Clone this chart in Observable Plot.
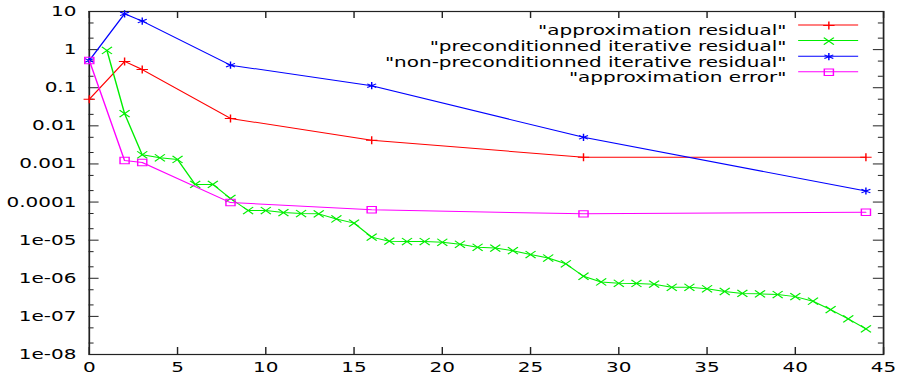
<!DOCTYPE html>
<html>
<head>
<meta charset="utf-8">
<script src="https://cdn.jsdelivr.net/npm/d3@7"></script>
<script src="https://cdn.jsdelivr.net/npm/@observablehq/plot@0.6"></script>
<style>
html, body { margin: 0; padding: 0; background: #fff; overflow: hidden; }
</style>
</head>
<body>
<div id="chart"></div>
<script>
// ---- data ----
const sharedIterations = [0, 2, 3, 8, 16, 28, 44];
const approximationResidual = [0.05, 0.49, 0.30, 0.0156, 0.0042, 0.0015, 0.0015];
const nonPreconditionedResidual = [0.52, 8.7, 5.6, 0.39, 0.113, 0.0050, 0.000195];
const approximationError = [0.52, 0.00123, 0.00109, 0.000097, 0.000063, 0.000049, 0.000054];

const preconditionedIterations = [1, 2, 3, 4, 5, 6, 7, 8, 9, 10, 11, 12, 13, 14, 15, 16, 17, 18, 19, 20, 21, 22,
  23, 24, 25, 26, 27, 28, 29, 30, 31, 32, 33, 34, 35, 36, 37, 38, 39, 40, 41, 42, 43, 44];
const preconditionedResidual = [0.95, 0.021, 0.00174, 0.00145, 0.00131, 0.00029, 0.00029, 0.000124,
  6.0e-5, 6.0e-5, 5.3e-5, 5.0e-5, 4.9e-5, 3.6e-5, 2.8e-5, 1.2e-5, 9.4e-6, 9.2e-6, 9.2e-6, 8.8e-6,
  7.8e-6, 6.5e-6, 6.2e-6, 5.3e-6, 4.2e-6, 3.4e-6, 2.4e-6, 1.13e-6, 8.0e-7, 7.4e-7, 7.3e-7, 7.0e-7,
  5.8e-7, 5.8e-7, 5.3e-7, 4.5e-7, 4.0e-7, 3.9e-7, 3.75e-7, 3.3e-7, 2.5e-7, 1.5e-7, 8.6e-8, 4.7e-8];

const xTicks = [0, 5, 10, 15, 20, 25, 30, 35, 40, 45];
const yTicks = [10, 1, 0.1, 0.01, 0.001, 0.0001, 1e-5, 1e-6, 1e-7, 1e-8];
const yTickLabels = ["10", "1", "0.1", "0.01", "0.001", "0.0001", "1e-05", "1e-06", "1e-07", "1e-08"];
const yMinorTicks = [5, 2, 0.5, 0.2, 0.05, 0.02, 0.005, 0.002, 0.0005, 0.0002, 5e-5, 2e-5,
  5e-6, 2e-6, 5e-7, 2e-7, 5e-8, 2e-8];

const seriesNames = ['"approximation residual"', '"preconditionned iterative residual"',
  '"non-preconditionned iterative residual"', '"approximation error"'];
const seriesColors = ["#ff0000", "#00ee00", "#0000ff", "#ff00ff"];
const seriesSymbols = ["plus", "times", "asterisk", "square"];

// ---- layout (drawn narrow, then stretched horizontally like the reference) ----
const OUT_W = 900, H = 376;
const W = 630;
const ML = 62, MR = 12, MT = 11, MB = 22;
const PW = W - ML - MR, PH = H - MT - MB;
const symbolR = {plus: 2.7, times: 3.3, asterisk: 3.4, square: 3.6};

const rows = (xs, ys) => xs.map((x, i) => ({x, y: ys[i]}));
const seriesData = [
  rows(sharedIterations, approximationResidual),
  rows(preconditionedIterations, preconditionedResidual),
  rows(sharedIterations, nonPreconditionedResidual),
  rows(sharedIterations, approximationError)
];

const legendDy = i => 14 + i * 15.6;

const marks = [
  Plot.tickX(xTicks, {x: d => d, insetTop: PH - 7, stroke: "#222"}),
  Plot.tickX(xTicks, {x: d => d, insetBottom: PH - 7, stroke: "#222"}),
  Plot.tickY(yTicks, {y: d => d, insetRight: PW - 7, stroke: "#222"}),
  Plot.tickY(yTicks, {y: d => d, insetLeft: PW - 7, stroke: "#222"}),
  Plot.tickY(yMinorTicks, {y: d => d, insetRight: PW - 3.5, stroke: "#222"}),
  Plot.tickY(yMinorTicks, {y: d => d, insetLeft: PW - 3.5, stroke: "#222"}),
  Plot.frame({stroke: "#222", strokeWidth: 1.2}),
  Plot.axisX({ticks: xTicks, tickSize: 0, tickPadding: 7.5, tickFormat: d => String(d), fill: "#000", label: null}),
  Plot.axisY({ticks: yTicks, tickSize: 0, tickPadding: 9, tickFormat: d => yTickLabels[yTicks.indexOf(d)], fill: "#000", label: null})
];

seriesData.forEach((data, i) => {
  marks.push(Plot.line(data, {x: "x", y: "y", stroke: seriesColors[i], strokeWidth: 1}));
  marks.push(Plot.dot(data, {x: "x", y: "y", symbol: seriesSymbols[i], stroke: seriesColors[i],
    fill: "none", r: symbolR[seriesSymbols[i]], strokeWidth: 1}));
  // legend entry
  marks.push(Plot.text([seriesNames[i]], {text: d => d, frameAnchor: "top-right", dx: -68, dy: legendDy(i),
    textAnchor: "end", fill: "#000"}));
  marks.push(Plot.dot([seriesNames[i]], {frameAnchor: "top-right", dx: -38.3, dy: legendDy(i),
    symbol: seriesSymbols[i], stroke: seriesColors[i], fill: "none", r: symbolR[seriesSymbols[i]], strokeWidth: 1}));
});

const svg = Plot.plot({
  width: W,
  height: H,
  marginLeft: ML,
  marginRight: MR,
  marginTop: MT,
  marginBottom: MB,
  x: {domain: [0, 45], label: null},
  y: {type: "log", domain: [1e-8, 10], label: null},
  style: {fontFamily: "DejaVu Sans", fontSize: "14px", color: "#000", background: "#fff"},
  marks
});

// legend sample lines
const lg = d3.select(svg).append("g");
seriesColors.forEach((c, i) => {
  const y = MT + legendDy(i);
  lg.append("line")
    .attr("x1", W - MR - 59.3).attr("x2", W - MR - 17.3)
    .attr("y1", y).attr("y2", y)
    .attr("stroke", c).attr("stroke-width", 1);
});
svg.insertBefore(lg.node(), svg.querySelector("g[aria-label='frame']") || svg.firstChild.nextSibling);

// stretch horizontally
svg.setAttribute("width", OUT_W);
svg.setAttribute("height", H);
svg.setAttribute("viewBox", `0 0 ${W} ${H}`);
svg.setAttribute("preserveAspectRatio", "none");
svg.style.width = OUT_W + "px";
svg.style.height = H + "px";
svg.style.maxWidth = "none";

document.getElementById("chart").appendChild(svg);
</script>
</body>
</html>
